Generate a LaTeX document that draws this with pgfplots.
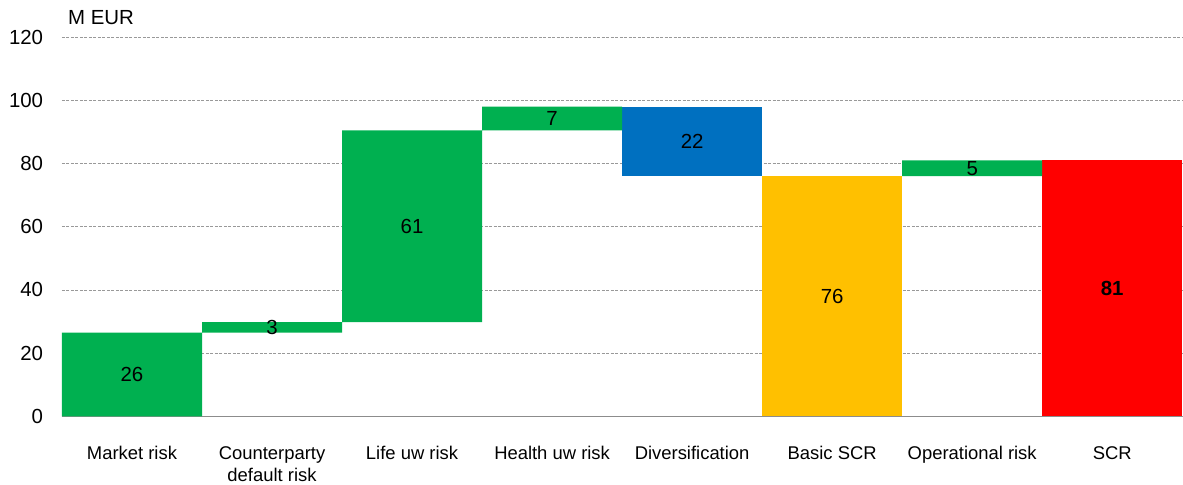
\documentclass[border=0pt]{standalone}
\usepackage{pgfplots}
\pgfplotsset{compat=1.18}
\usepackage{pgfplotstable}
\usepackage{fontspec}
\setmainfont{Liberation Sans}
\definecolor{cgreen}{HTML}{00B050}
\definecolor{cblue}{HTML}{0070C0}
\definecolor{cyellow}{HTML}{FFC000}
\definecolor{cred}{HTML}{FF0000}

\pgfplotstableread{
x base green blue yellow red
0 0    26.5 0    0    0
1 26.5 3.3  0    0    0
2 29.8 60.7 0    0    0
3 90.5 7.5  0    0    0
4 76.0 0    22.0 0    0
5 0    0    0    76.0 0
6 76.0 5.0  0    0    0
7 0    0    0    0    81.0
}\bars

\pgfplotstableread{
x y lab
0 13.25 26
1 28.15 3
2 60.15 61
3 94.25 7
4 87.0 22
5 38.0 76
6 78.5 5
7 40.5 \textbf{81}
}\labs

\pgfplotsset{common/.style={
  scale only axis, width=1121bp, height=379.7bp,
  xmin=-0.5, xmax=7.5, ymin=0, ymax=120,
}}

\begin{document}
\begin{tikzpicture}
\begin{axis}[common, name=main,
  ybar stacked, bar width=1,
  ytick={0,20,...,120},
  xtick={0,...,7},
  xticklabels={Market risk,{Counterparty\\default risk},Life uw risk,Health uw risk,Diversification,Basic SCR,Operational risk,SCR},
  xticklabel style={align=center, anchor=north, inner sep=0pt, yshift=-30bp, font=\fontsize{18.5}{22}\selectfont},
  yticklabel style={anchor=east, inner sep=0pt, xshift=-18.7bp, font=\fontsize{20.5}{24}\selectfont},
  /pgf/number format/assume math mode=true,
  major tick length=0pt,
  ymajorgrids,
  grid style={gray!80, dash pattern=on 3bp off 1.5bp, line width=0.8bp},
  axis x line*=bottom, axis y line*=left,
  axis line style={-},
  x axis line style={gray!90, line width=1.5bp},
  y axis line style={draw=none},
  title={M EUR},
  title style={at={(rel axis cs:0,1)}, anchor=base west, inner sep=0pt, xshift=6bp, yshift=7bp, font=\fontsize{20.5}{24}\selectfont},
]
\addplot[draw=none, fill=none] table[x=x, y=base]{\bars};
\addplot[draw=none, fill=cgreen] table[x=x, y=green]{\bars};
\addplot[draw=none, fill=cblue] table[x=x, y=blue]{\bars};
\addplot[draw=none, fill=cyellow] table[x=x, y=yellow]{\bars};
\addplot[draw=none, fill=cred] table[x=x, y=red]{\bars};
\end{axis}
\begin{axis}[common, hide axis]
\addplot[draw=none, mark=none, only marks, nodes near coords, point meta=explicit symbolic,
  nodes near coords style={anchor=center, inner sep=0pt, font=\fontsize{20.5}{24}\selectfont}]
  table[x=x, y=y, meta=lab]{\labs};
\end{axis}
\path[use as bounding box] ([shift={(-62bp,-68.3bp)}]main.south west) rectangle ([shift={(0bp,37bp)}]main.north east);
\end{tikzpicture}
\end{document}
